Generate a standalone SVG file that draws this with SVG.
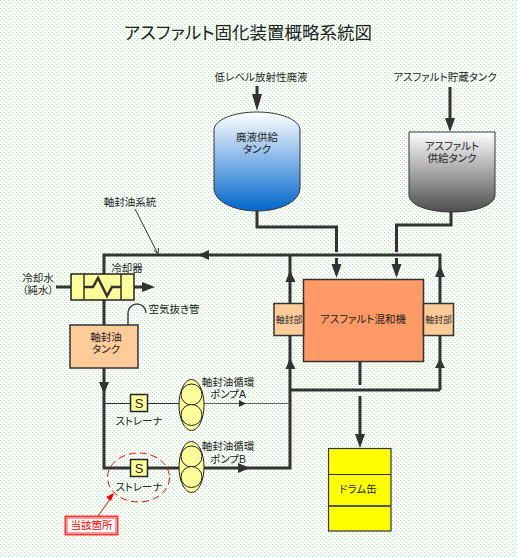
<svg xmlns="http://www.w3.org/2000/svg" width="517" height="557" viewBox="0 0 517 557">
<style>
text{font-family:"Liberation Sans","Noto Sans CJK JP",sans-serif;font-size:10.5px;fill:#222;text-anchor:middle;dominant-baseline:central;font-feature-settings:"palt"}
.p{fill:none;stroke:#333;stroke-width:3}
.t{fill:none;stroke:#333;stroke-width:1}
.h{fill:#333;stroke:none}
.y{fill:#ff9;stroke:#222;stroke-width:1.5}
.o{fill:#fc9;stroke:#333;stroke-width:1.5}
.s{font-size:13px}
.u{font-size:8.8px}
</style>
<defs>
<pattern id="bg" width="4" height="4" patternUnits="userSpaceOnUse">
<rect width="4" height="4" fill="#fff"/>
<rect x="0" y="0" width="1" height="1" fill="#a4eea4"/>
<rect x="2" y="2" width="1" height="1" fill="#a4eea4"/>
</pattern>
<linearGradient id="g1" x1="0" y1="0" x2="0" y2="1"><stop offset="0" stop-color="#fff"/><stop offset="1" stop-color="#06c"/></linearGradient>
<linearGradient id="g2" x1="0" y1="0" x2="0" y2="1"><stop offset="0" stop-color="#fff"/><stop offset="1" stop-color="#4d4d4d"/></linearGradient>
</defs>
<rect width="517" height="557" fill="url(#bg)" shape-rendering="crispEdges"/>
<text x="248" y="33" style="font-size:17.5px">アスファルト固化装置概略系統図</text>
<text x="261" y="77">低レベル放射性廃液</text>
<text x="445" y="77">アスファルト貯蔵タンク</text>
<text x="130" y="202">軸封油系統</text>
<text x="127" y="268">冷却器</text>
<text x="38" y="278"><tspan x="38">冷却水</tspan><tspan x="38" dy="12.200">（純水）</tspan></text>
<text x="174" y="309">空気抜き管</text>
<text x="228" y="382"><tspan x="228">軸封油循環</tspan><tspan x="228" dy="12.200">ポンプA</tspan></text>
<text x="228" y="446"><tspan x="228">軸封油循環</tspan><tspan x="228" dy="13">ポンプB</tspan></text>
<text x="139" y="421">ストレーナ</text>
<text x="139" y="487">ストレーナ</text>
<g id="connectors">
<path class="p" d="M257 86V100M450 87V120M257 211V227H336.500V252M336.500 258V266M451 212V225H396.500V252M396.500 258V266"/>
<path class="p" d="M440 390V255H104V468H290V255M290 390H440M360 361V385M360 396V436M56 287H71M134 287H144"/>
<path class="t" d="M104 403.500H130M148 403.500H179"/>
<path d="M204 403.500H290" fill="none" stroke="#666" stroke-width="1"/>
<path class="t" d="M135 209L158 254M153.500 250L158 254L158.500 248"/>
<path d="M128 325V313A9 9 0 0 1 146 313" fill="none" stroke="#444" stroke-width="1.500"/>
<path class="h" d="M252 94H262L257 111ZM445 118H455L450 132ZM331.500 264H341.500L336.500 278ZM391.500 264H401.500L396.500 278ZM285.500 282H295.500L290 270ZM285.500 369H295.500L290 358ZM435 277H445L440 265ZM435 368H445L440 358ZM355 434H365L360 448ZM99 382H109L104 394ZM198 255L209 250V260ZM142 282L155 287L142 292ZM239 400L246 403.500L239 407ZM238 463L250 468L238 473Z"/>
<path d="M98 516L113 495" stroke="#f00" stroke-width="1" fill="none"/>
<path d="M114 493L111 501L106 497Z" fill="#f00"/>
</g>
<g id="cooler">
<rect class="y" x="71" y="274" width="63" height="26"/>
<path class="t" d="M84 274V300M121 274V300" style="stroke-width:1.500"/>
<path class="t" d="M84 287H93L98 278L107 296L112 287H121" style="stroke-width:2.500"/>
</g>
<g id="oil-tank"><rect class="o" x="70" y="325" width="68" height="43"/><text x="106" y="337"><tspan x="106">軸封油</tspan><tspan x="106" dy="12.200">タンク</tspan></text></g>
<g id="waste-tank"><path d="M214 130C214 120 233 112 257 112C281 112 300 120 300 130V188C300 201 281 211 257 211C233 211 214 201 214 188Z" fill="url(#g1)" stroke="#333"/><text x="257" y="137"><tspan x="257">廃液供給</tspan><tspan x="257" dy="12.200">タンク</tspan></text></g>
<g id="asphalt-tank"><path d="M409 132H495V195C495 205 476 212 452 212C428 212 409 205 409 195Z" fill="url(#g2)" stroke="#333"/><text x="452" y="146"><tspan x="452">アスファルト</tspan><tspan x="452" dy="12.200">供給タンク</tspan></text></g>
<g id="mixer"><rect x="303.500" y="279.500" width="120" height="82" fill="#f96" stroke="#333" stroke-width="1.500"/><text x="363" y="319">アスファルト混和機</text></g>
<g id="seal-l"><rect class="o" x="274" y="303.500" width="29.500" height="32"/><text class="u" x="289" y="320">軸封部</text></g>
<g id="seal-r"><rect class="o" x="423.500" y="303.500" width="30" height="32"/><text class="u" x="438.500" y="320">軸封部</text></g>
<g id="strainer-a"><rect class="y" x="130.500" y="394.500" width="17" height="17"/><text class="s" x="139" y="403">S</text></g>
<g id="strainer-b"><rect class="y" x="130.500" y="459.500" width="17" height="17"/><text class="s" x="139" y="468">S</text></g>
<g id="pump-a"><ellipse class="y" cx="191.500" cy="405" rx="12.500" ry="25.500" style="stroke-width:1"/><circle class="y" cx="191.500" cy="394.500" r="10.500" style="stroke-width:1"/><circle class="y" cx="191.500" cy="415" r="10.500" style="stroke-width:1"/></g>
<g id="pump-b"><ellipse class="y" cx="191.500" cy="467" rx="12.500" ry="25.500" style="stroke-width:1"/><circle class="y" cx="191.500" cy="456.500" r="10.500" style="stroke-width:1"/><circle class="y" cx="191.500" cy="477" r="10.500" style="stroke-width:1"/></g>
<g id="drum"><rect x="328.500" y="448.500" width="62.500" height="82.500" fill="#ff0" stroke="#333" stroke-width="1.200"/><path d="M328.500 474.500H391" stroke="#333"/><path d="M328.500 506H391" stroke="#555" stroke-width="2"/><text x="358" y="489">ドラム缶</text></g>
<g id="marker"><ellipse cx="138.500" cy="477.500" rx="31" ry="24.500" fill="none" stroke="#f00" stroke-dasharray="7 4"/></g>
<g id="callout"><rect x="65.500" y="516.500" width="52" height="18" fill="#fff" stroke="#f33" stroke-width="2"/><rect x="67.500" y="518.500" width="48" height="14" fill="#fff" stroke="#f99" stroke-width="1"/><text x="91.500" y="525" style="fill:#f00">当該箇所</text></g>
</svg>
